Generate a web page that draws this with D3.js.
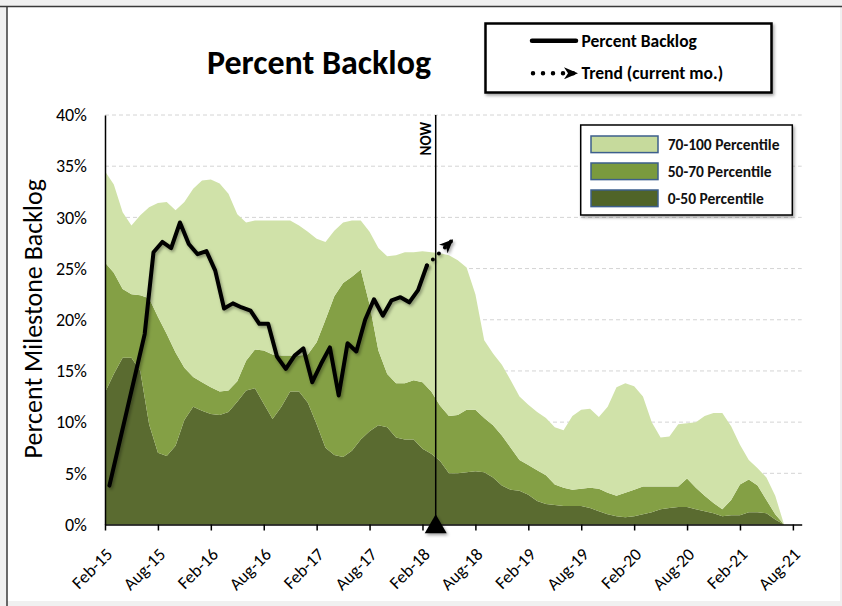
<!DOCTYPE html>
<html>
<head>
<meta charset="utf-8">
<title>Percent Backlog</title>
<script src="https://d3js.org/d3.v7.min.js"></script>
<style>
    html, body { margin: 0; padding: 0; background: #f0f0f0; }
    #chart-container { width: 842px; height: 606px; }
    svg { display: block; font-family: Carlito, Calibri, Lato, sans-serif; }
</style>
</head>
<body>
<div id="chart-container"></div>
<script>
// x axis: one tick every six months, month index 0 = Feb-15
const tickMonths = [0, 6, 12, 18, 24, 30, 36, 42, 48, 54, 60, 66, 72, 78];
const tickLabels = ['Feb-15', 'Aug-15', 'Feb-16', 'Aug-16', 'Feb-17', 'Aug-17', 'Feb-18',
    'Aug-18', 'Feb-19', 'Aug-19', 'Feb-20', 'Aug-20', 'Feb-21', 'Aug-21'];
const yTicks = [0, 5, 10, 15, 20, 25, 30, 35, 40];

// percentile band tops (%), one value per month from Feb-15
const p50 = [12.9, 14.7, 16.3, 16.3, 15.0, 9.8, 7.0, 6.7, 7.7, 10.2,
    11.5, 11.1, 10.8, 10.7, 11.0, 12.0, 13.1, 13.3, 11.8, 10.3,
    11.5, 13.0, 13.0, 11.9, 9.8, 7.5, 6.8, 6.6, 7.2, 8.3,
    9.1, 9.7, 9.5, 8.5, 8.3, 8.3, 7.4, 6.9, 6.2, 5.0,
    5.0, 5.1, 5.2, 5.1, 4.6, 3.8, 3.4, 3.3, 2.9, 2.3,
    2.0, 1.9, 1.8, 1.8, 1.8, 1.6, 1.3, 1.0, 0.8, 0.7,
    0.8, 1.0, 1.2, 1.5, 1.6, 1.7, 1.7, 1.5, 1.3, 1.1,
    0.8, 0.9, 0.9, 1.2, 1.2, 1.1, 0.5, 0];
const p70 = [25.6, 24.6, 23.0, 22.5, 22.4, 22.1, 20.3, 18.6, 16.8, 15.3,
    14.4, 13.9, 13.4, 13.0, 13.1, 14.0, 16.0, 17.1, 17.0, 16.6,
    16.5, 16.5, 16.5, 16.6, 17.8, 20.0, 22.3, 23.6, 24.2, 24.9,
    21.5, 17.0, 14.7, 13.8, 13.8, 14.1, 13.9, 13.0, 11.6, 10.6,
    10.7, 11.2, 11.2, 10.4, 9.7, 8.7, 7.5, 6.3, 5.8, 5.3,
    4.8, 3.9, 3.6, 3.4, 3.5, 3.6, 3.5, 3.1, 2.8, 3.1,
    3.4, 3.7, 3.7, 3.7, 3.7, 3.7, 4.5, 3.6, 2.8, 2.1,
    1.5, 2.4, 3.9, 4.4, 3.8, 2.4, 1.0, 0];
const p100 = [34.5, 33.2, 30.5, 29.2, 30.2, 31.0, 31.4, 31.5, 30.7, 31.5,
    32.8, 33.6, 33.7, 33.3, 32.3, 30.3, 29.5, 29.7, 29.7, 29.7,
    29.7, 29.7, 29.2, 28.6, 27.9, 27.6, 28.7, 29.5, 29.7, 29.7,
    28.6, 27.0, 26.2, 26.3, 26.6, 26.6, 26.7, 26.6, 26.5, 26.3,
    25.8, 25.1, 22.5, 18.0, 16.7, 15.6, 14.1, 12.5, 11.7, 11.0,
    10.4, 9.5, 9.2, 10.6, 11.2, 11.3, 10.5, 11.5, 13.4, 13.8,
    13.5, 12.5, 10.0, 8.5, 8.6, 9.8, 9.9, 10.0, 10.6, 10.9,
    10.9, 9.6, 7.8, 6.3, 5.5, 4.6, 2.8, 0];

// percent backlog, Feb-15 .. Feb-18 (plotted mid-month)
const backlog = [3.8, 7.5, 11.2, 14.9, 18.6, 26.6, 27.6, 27.0, 29.5, 27.4,
    26.4, 26.7, 24.8, 21.1, 21.6, 21.2, 20.9, 19.6, 19.6, 16.4,
    15.2, 16.5, 17.2, 13.9, 15.7, 17.3, 12.6, 17.7, 16.9, 20.0,
    22.0, 20.4, 21.9, 22.2, 21.7, 22.9, 25.3];
const trendMonths = [36, 38.9];
const trendValues = [25.3, 27.8];
const nowMonth = 37;

const bandLabels = ['70-100 Percentile', '50-70 Percentile', '0-50 Percentile'];

class BacklogChart {
    constructor(containerId) {
        this.containerId = containerId;
        this.dimensions = { width: 842, height: 606 };
        this.plot = { left: 105, right: 801.7, top: 115, bottom: 524.5 };
        this.colors = {
            light: '#d0e2a9',
            mid: '#84a045',
            dark: '#5a6b30',
            swLight: '#c6da9c',
            swMid: '#7a9a3e',
            swDark: '#506428',
            swBorder: '#3d5f8c',
            grid: '#d4d4d4'
        };
    }

    createChart() {
        const { width, height } = this.dimensions;
        const p = this.plot;

        d3.select(this.containerId).selectAll('*').remove();

        const svg = d3.select(this.containerId)
            .append('svg')
            .attr('width', width)
            .attr('height', height);
        this.svg = svg;

        const defs = svg.append('defs');
        const shadow = defs.append('filter').attr('id', 'shadow')
            .attr('x', '-20%').attr('y', '-20%').attr('width', '140%').attr('height', '140%');
        shadow.append('feDropShadow')
            .attr('dx', 1.5).attr('dy', 2).attr('stdDeviation', 1.5)
            .attr('flood-color', '#000').attr('flood-opacity', 0.35);

        defs.append('marker')
            .attr('id', 'arrow')
            .attr('markerUnits', 'userSpaceOnUse')
            .attr('viewBox', '0 0 14 12')
            .attr('refX', 13).attr('refY', 6)
            .attr('markerWidth', 14).attr('markerHeight', 12)
            .attr('orient', 'auto')
            .append('path')
            .attr('d', 'M0,0 L14,6 L0,12 L4,6 Z')
            .attr('fill', '#000');

        // frame
        svg.append('rect').attr('x', 7).attr('y', 7).attr('width', 833).attr('height', 594).attr('fill', '#fff');
        svg.append('line').attr('x1', 0).attr('x2', width).attr('y1', 6.5).attr('y2', 6.5)
            .attr('stroke', '#3a3a3a').attr('stroke-width', 1.5);
        svg.append('line').attr('x1', 7).attr('x2', 7).attr('y1', 6.5).attr('y2', height)
            .attr('stroke', '#3a3a3a').attr('stroke-width', 1.5);

        // scales
        const xScale = d3.scaleLinear().domain([0, 79]).range([p.left, p.right]);
        const yScale = d3.scaleLinear().domain([0, 40]).range([p.bottom, p.top]);

        // grid
        svg.append('g')
            .selectAll('line')
            .data(yTicks.filter(d => d > 0))
            .enter()
            .append('line')
            .attr('x1', p.left).attr('x2', p.right)
            .attr('y1', d => yScale(d)).attr('y2', d => yScale(d))
            .attr('stroke', this.colors.grid)
            .attr('stroke-dasharray', '4 3');

        // stacked percentile bands
        const zeros = p50.map(() => 0);
        const bands = [
            { lo: zeros, hi: p50, color: this.colors.dark },
            { lo: p50, hi: p70, color: this.colors.mid },
            { lo: p70, hi: p100, color: this.colors.light }
        ];
        const area = d3.area()
            .x((d, i) => xScale(i))
            .y0(d => yScale(d[0]))
            .y1(d => yScale(d[1]));

        svg.append('g')
            .selectAll('path')
            .data(bands)
            .enter()
            .append('path')
            .attr('d', b => area(b.hi.map((v, i) => [b.lo[i], v])))
            .attr('fill', b => b.color);

        // axes
        const xAxis = d3.axisBottom(xScale)
            .tickValues(tickMonths)
            .tickFormat((d, i) => tickLabels[i])
            .tickSize(6)
            .tickSizeOuter(0);
        const gx = svg.append('g')
            .attr('transform', `translate(0, ${p.bottom})`)
            .call(xAxis)
            .attr('font-family', null)
            .attr('font-size', null);
        gx.select('.domain').attr('stroke', '#000').attr('stroke-width', 1.5);
        gx.selectAll('.tick line').attr('stroke', '#000').attr('stroke-width', 1.5);
        gx.selectAll('.tick text')
            .attr('x', 0).attr('y', 0).attr('dy', 0)
            .attr('text-anchor', 'end')
            .attr('transform', 'translate(8, 31) rotate(-45)')
            .style('font-size', '17.5px')
            .attr('fill', '#000');

        const yAxis = d3.axisLeft(yScale)
            .tickValues(yTicks)
            .tickFormat(d => `${d}%`)
            .tickSize(0)
            .tickPadding(18);
        const gy = svg.append('g')
            .attr('transform', `translate(${p.left}, 0)`)
            .call(yAxis)
            .attr('font-family', null)
            .attr('font-size', null);
        gy.select('.domain').attr('stroke', '#000').attr('stroke-width', 1.5);
        gy.selectAll('.tick text').style('font-size', '18px').attr('fill', '#000');

        // backlog line
        const line = d3.line()
            .x((d, i) => xScale(i + 0.5))
            .y(d => yScale(d));

        svg.append('path')
            .datum(backlog)
            .attr('d', line)
            .attr('fill', 'none')
            .attr('stroke', '#000')
            .attr('stroke-width', 4)
            .attr('stroke-linejoin', 'round')
            .attr('stroke-linecap', 'round')
            .attr('filter', 'url(#shadow)');

        // trend for current month
        const trendLine = d3.line()
            .x(d => xScale(d[0] + 0.5))
            .y(d => yScale(d[1]));
        svg.append('path')
            .datum(trendMonths.map((m, i) => [m, trendValues[i]]))
            .attr('d', trendLine)
            .attr('fill', 'none')
            .attr('stroke', '#000')
            .attr('stroke-width', 4)
            .attr('stroke-linecap', 'round')
            .attr('stroke-dasharray', '0 8.5')
            .attr('marker-end', 'url(#arrow)')
            .attr('filter', 'url(#shadow)');

        // NOW marker
        const nowX = xScale(nowMonth + 0.5);
        svg.append('line')
            .attr('x1', nowX).attr('x2', nowX)
            .attr('y1', p.top).attr('y2', p.bottom)
            .attr('stroke', '#000').attr('stroke-width', 1.5);
        svg.append('text')
            .attr('transform', `translate(${nowX - 4.5}, ${p.top + 7}) rotate(-90)`)
            .attr('text-anchor', 'end')
            .style('font-size', '15px')
            .style('font-weight', 'bold')
            .text('NOW');
        svg.append('path')
            .attr('d', d3.symbol().type(d3.symbolTriangle).size(210)())
            .attr('transform', `translate(${nowX}, ${p.bottom + 2.5})`)
            .attr('fill', '#000')
            .attr('filter', 'url(#shadow)');

        // axis title
        svg.append('text')
            .attr('transform', `translate(42, ${(p.top + p.bottom) / 2 - 1}) rotate(-90)`)
            .attr('text-anchor', 'middle')
            .style('font-size', '26px')
            .text('Percent Milestone Backlog');

        // chart title
        svg.append('text')
            .attr('x', 319).attr('y', 74)
            .attr('text-anchor', 'middle')
            .style('font-size', '34px')
            .style('font-weight', 'bold')
            .text('Percent Backlog');

        this.drawLineLegend();
        this.drawBandLegend();
    }

    drawLineLegend() {
        const g = this.svg.append('g');
        g.append('rect')
            .attr('x', 485.5).attr('y', 23.5)
            .attr('width', 286).attr('height', 69)
            .attr('fill', '#fff')
            .attr('stroke', '#000').attr('stroke-width', 2.5)
            .attr('filter', 'url(#shadow)');

        g.append('line')
            .attr('x1', 532).attr('x2', 576)
            .attr('y1', 40.7).attr('y2', 40.7)
            .attr('stroke', '#000').attr('stroke-width', 4.5)
            .attr('stroke-linecap', 'round');
        g.append('path')
            .attr('d', 'M533,73.3 L577,73.3')
            .attr('stroke', '#000').attr('stroke-width', 4.5)
            .attr('stroke-linecap', 'round')
            .attr('stroke-dasharray', '0 10')
            .attr('marker-end', 'url(#arrow)');

        g.selectAll('text')
            .data(['Percent Backlog', 'Trend (current mo.)'])
            .enter()
            .append('text')
            .attr('x', 581.5)
            .attr('y', (d, i) => 40.7 + i * 32.6)
            .attr('dy', '0.35em')
            .style('font-size', '17.5px')
            .style('font-weight', 'bold')
            .text(d => d);
    }

    drawBandLegend() {
        const swatches = [this.colors.swLight, this.colors.swMid, this.colors.swDark];
        const g = this.svg.append('g');
        g.append('rect')
            .attr('x', 580.7).attr('y', 125)
            .attr('width', 211.6).attr('height', 90)
            .attr('fill', '#fff')
            .attr('stroke', '#000').attr('stroke-width', 1.5)
            .attr('filter', 'url(#shadow)');

        const rows = g.selectAll('g.row')
            .data(bandLabels)
            .enter()
            .append('g')
            .attr('class', 'row')
            .attr('transform', (d, i) => `translate(0, ${144.3 + i * 27})`);
        rows.append('rect')
            .attr('x', 591).attr('y', -8.3)
            .attr('width', 67).attr('height', 16.6)
            .attr('fill', (d, i) => swatches[i])
            .attr('stroke', this.colors.swBorder).attr('stroke-width', 1.5);
        rows.append('text')
            .attr('x', 667.7)
            .attr('dy', '0.35em')
            .style('font-size', '15.5px')
            .style('font-weight', 'bold')
            .attr('fill', '#111')
            .text(d => d);
    }
}

document.addEventListener('DOMContentLoaded', () => {
    const chart = new BacklogChart('#chart-container');
    chart.createChart();
});
</script>
</body>
</html>
